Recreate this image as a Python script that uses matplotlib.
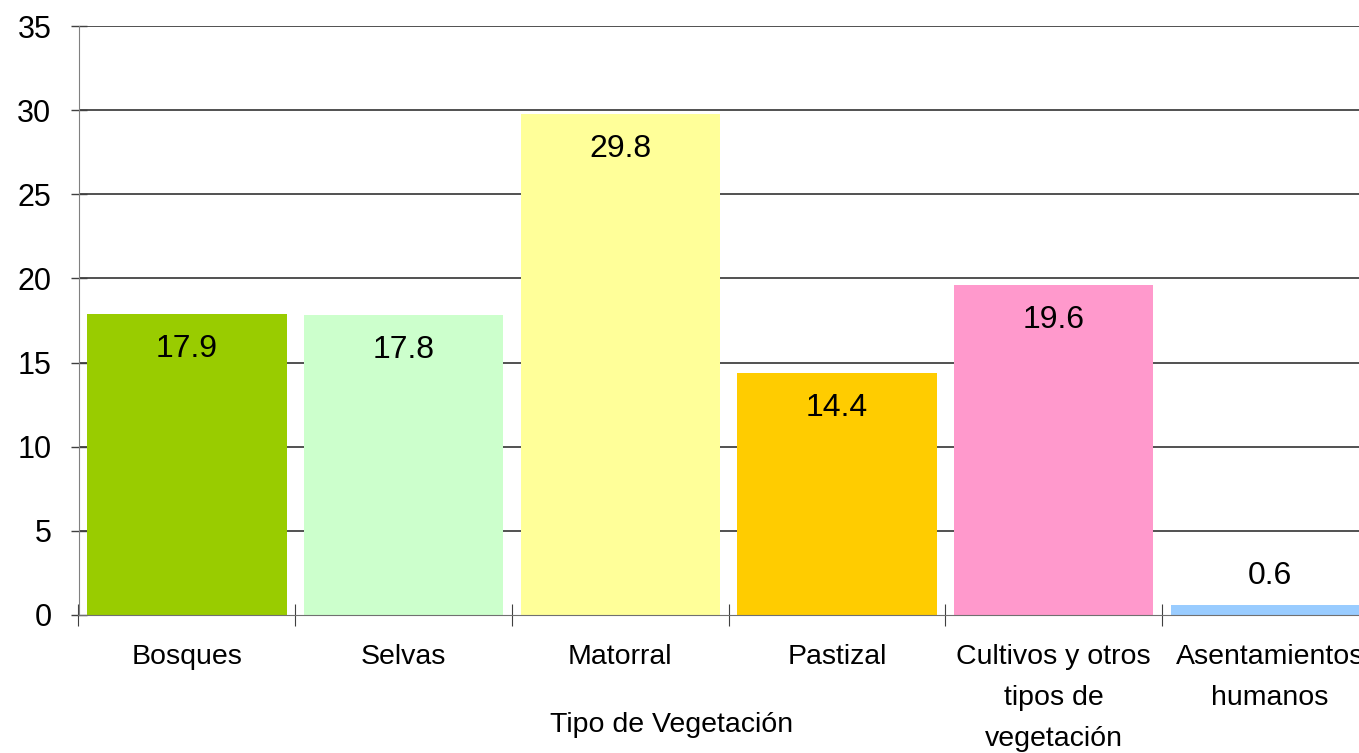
import numpy as np
import matplotlib
matplotlib.use("Agg")
import matplotlib.pyplot as plt

plt.rcParams['font.family'] = ['Liberation Sans', 'DejaVu Sans']

# datos
categorias = ["Bosques", "Selvas", "Matorral", "Pastizal",
              "Cultivos y otros\ntipos de\nvegetación", "Asentamientos\nhumanos"]
valores = [17.9, 17.8, 29.8, 14.4, 19.6, 0.6]
colores = ["#99CC00", "#CCFFCC", "#FFFF99", "#FFCC00", "#FF99CC", "#99CCFF"]

fig = plt.figure(figsize=(13.59, 7.53), dpi=100)
# el area de trazado sale por la derecha (la imagen original esta recortada)
ax = fig.add_axes([78.5/1359, 138/753, 1300/1359, 589/753])

x = np.arange(len(valores))
barras = ax.bar(x, valores, width=0.92, color=colores, zorder=3)

ax.set_xlim(-0.5, len(valores) - 0.5)
ax.set_ylim(0, 35)
ax.set_yticks(np.arange(0, 36, 5))
ax.tick_params(axis='y', labelsize=22, length=11, direction='inout', width=1, color='#404040', pad=14)

# lineas de division
for yv in range(5, 36, 5):
    ax.axhline(yv, color='#333333', lw=1.2, zorder=1)

ax.set_xticks(np.arange(-0.5, len(valores), 1))
ax.set_xticklabels([])
ax.set_xticks(x, minor=True)
ax.set_xticklabels(categorias, minor=True, fontsize=20.5, linespacing=1.75, va='top')
ax.tick_params(axis='x', which='major', length=16, direction='inout', color='#404040')
ax.tick_params(axis='x', which='minor', length=0, pad=21)

for s in ['top', 'right']:
    ax.spines[s].set_visible(False)
ax.spines['left'].set_color('#808080')
ax.spines['bottom'].set_color('#707070')
ax.spines['bottom'].set_zorder(4)

# etiquetas de valor
for xi, v in zip(x, valores):
    if v > 3:
        ax.annotate(f"{v:.1f}", (xi, v), xytext=(0, -35), textcoords='offset pixels',
                    ha='center', va='center', fontsize=23)
    else:
        ax.annotate(f"{v:.1f}", (xi, v), xytext=(0, 29), textcoords='offset pixels',
                    ha='center', va='center', fontsize=23)

fig.text(672/1359, 1 - 725/753, "Tipo de Vegetación", ha='center', va='center', fontsize=20.5)

fig.savefig("out.png", dpi=100)
